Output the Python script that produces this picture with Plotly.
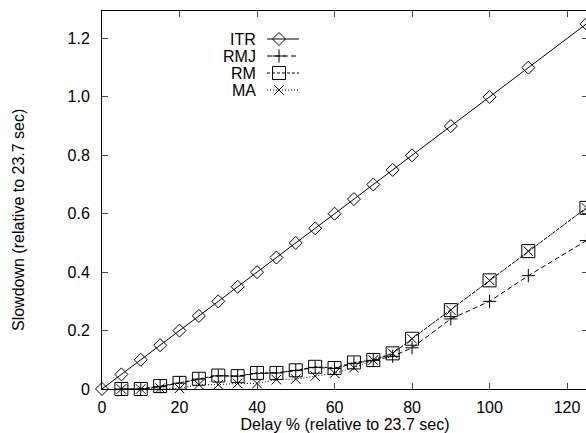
import plotly.graph_objects as go

# ---- data ----
x_itr = [0, 5, 10, 15, 20, 25, 30, 35, 40, 45, 50, 55, 60, 65, 70, 75, 80, 90, 100, 110, 125]
itr = [0.0, 0.05, 0.10, 0.15, 0.20, 0.25, 0.30, 0.35, 0.40, 0.45, 0.50, 0.55, 0.60,
       0.65, 0.70, 0.75, 0.80, 0.90, 1.00, 1.10, 1.25]

x_other = [5, 10, 15, 20, 25, 30, 35, 40, 45, 50, 55, 60, 65, 70, 75, 80, 90, 100, 110, 125]
rmj = [0.0, 0.0, 0.008, 0.02, 0.034, 0.045, 0.044, 0.053, 0.055, 0.063, 0.074, 0.070,
       0.088, 0.098, 0.112, 0.141, 0.240, 0.300, 0.388, 0.508]
rm = [0.0, 0.0, 0.010, 0.021, 0.035, 0.046, 0.044, 0.055, 0.055, 0.064, 0.076, 0.072,
      0.091, 0.099, 0.122, 0.172, 0.270, 0.372, 0.472, 0.620]
ma = [0.0, 0.0, 0.003, 0.002, 0.015, 0.015, 0.019, 0.019, 0.032, 0.034, 0.044, 0.054,
      0.073, 0.099, 0.122, 0.172, 0.270, 0.372, 0.472, 0.620]

x_ticks = [0, 20, 40, 60, 80, 100, 120]
y_ticks = [0, 0.2, 0.4, 0.6, 0.8, 1.0, 1.2]
y_tick_text = ["0", "0.2", "0.4", "0.6", "0.8", "1.0", "1.2"]

names = ["ITR", "RMJ", "RM", "MA"]
ys = [itr, rmj, rm, ma]
xs = [x_itr, x_other, x_other, x_other]
symbols = ["diamond-open", "cross-thin-open", "square-open", "x-thin-open"]
msizes = [10, 9.5, 13, 9.5]
dashes = ["solid", "5px,3px", "3px,2px", "1px,2px"]

FONT = "Liberation Sans, Arial, Helvetica, sans-serif"

fig = go.Figure()
for name, xv, yv, sym, ms, d in zip(names, xs, ys, symbols, msizes, dashes):
    fig.add_trace(go.Scatter(
        x=xv, y=yv, name=name, mode="lines+markers",
        line=dict(color="black", width=1, dash=d),
        marker=dict(symbol=sym, size=ms, color="black",
                    line=dict(color="black", width=1)),
        cliponaxis=False, showlegend=False,
    ))

# ---- gnuplot-style key (text left, sample right) on an overlay pixel axis ----
key_y = [39, 56, 73, 90]
for name, sym, ms, d, ky in zip(names, symbols, msizes, dashes, key_y):
    fig.add_trace(go.Scatter(
        x=[267, 299], y=[ky, ky], mode="lines",
        line=dict(color="black", width=1, dash=d),
        xaxis="x2", yaxis="y2", showlegend=False, hoverinfo="skip",
    ))
    fig.add_trace(go.Scatter(
        x=[279], y=[ky], mode="markers",
        marker=dict(symbol=sym, size=ms, color="black",
                    line=dict(color="black", width=1)),
        xaxis="x2", yaxis="y2", showlegend=False, hoverinfo="skip",
    ))
    fig.add_annotation(x=258, y=ky, xref="x2", yref="y2", text=name,
                       showarrow=False, xanchor="right", yanchor="middle",
                       font=dict(family=FONT, size=16, color="black"))

fig.add_annotation(x=(18 - 102) / 486, y=(389 - 220) / 378, xref="paper", yref="paper",
                   text="Slowdown (relative to 23.7 sec)", textangle=-90,
                   showarrow=False, xanchor="center", yanchor="middle",
                   font=dict(family=FONT, size=16, color="black"))

fig.update_layout(
    width=588, height=433,
    margin=dict(l=102, r=0, t=11, b=44),
    paper_bgcolor="white", plot_bgcolor="white",
    font=dict(family=FONT, size=16, color="black"),
    xaxis=dict(
        range=[0, 125.4], tickvals=x_ticks, ticks="inside", ticklen=6,
        ticklabelstandoff=4,
        showline=True, linecolor="black", linewidth=1, mirror="allticks",
        showgrid=False, zeroline=False, tickfont=dict(size=16),
        title=dict(text="Delay % (relative to 23.7 sec)", standoff=0,
                   font=dict(size=16)),
    ),
    yaxis=dict(
        range=[0, 1.294], tickvals=y_ticks, ticktext=y_tick_text,
        ticks="inside", ticklen=6, ticklabelstandoff=8,
        showline=True, linecolor="black", linewidth=1, mirror="allticks",
        showgrid=False, zeroline=False, tickfont=dict(size=16),
    ),
    xaxis2=dict(range=[102, 588], overlaying="x", visible=False, anchor="y2",
                fixedrange=True),
    yaxis2=dict(range=[389, 11], overlaying="y", visible=False, anchor="x2",
                fixedrange=True),
)

fig.write_html("out.html", config={"displayModeBar": False},
               post_script="document.body.style.margin='0';document.body.style.overflow='hidden';")
